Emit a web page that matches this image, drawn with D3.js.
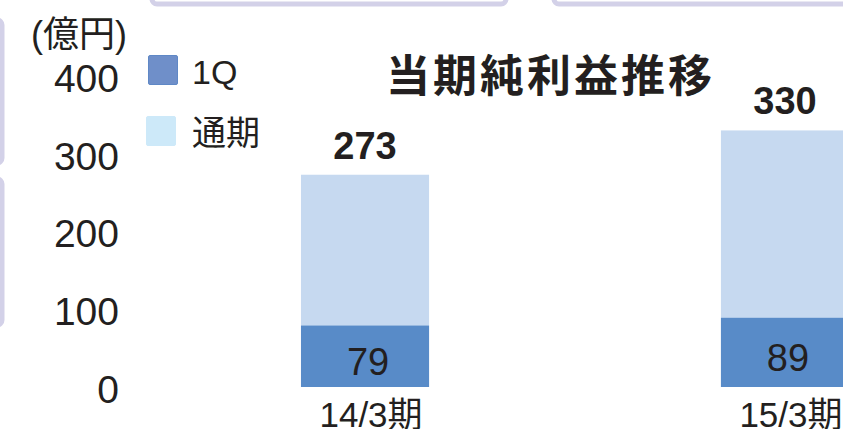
<!DOCTYPE html>
<html>
<head>
<meta charset="utf-8">
<script src="https://cdn.jsdelivr.net/npm/d3@7"></script>
<style>
  body { margin: 0; background: #fff; }
  text { font-family: "Liberation Sans", Arial, "Noto Sans CJK JP", sans-serif; fill: #231f20; }
</style>
</head>
<body>
<div id="vis_container"></div>
<script>
// data
var categories = ["14/3期", "15/3期"];
var q1_values = [79, 89];
var full_values = [273, 330];
var y_ticks = [0, 100, 200, 300, 400];
var legend_labels = ["1Q", "通期"];

var width = 843;
var height = 429;

var x = d3.scaleBand()
    .domain(categories)
    .range([91, 1059])
    .paddingInner(0.695)
    .paddingOuter(0.5);

var y = d3.scaleLinear()
    .domain([0, 400])
    .range([387, 76]);

var q1_color = "#588bc8";
var full_color = "#c6d9f0";

var svg = d3.select("#vis_container")
    .append("svg")
    .attr("width", width)
    .attr("height", height);

// lavender frames of the page around the chart (cropped)
var frames = [
    {x: 152, y: -60, w: 354, h: 64},
    {x: 554, y: -60, w: 360, h: 64},
    {x: -60, y: 20, w: 62, h: 143},
    {x: -60, y: 179, w: 62, h: 146}
];
svg.selectAll(".frame").data(frames).enter().append("rect")
    .attr("class", "frame")
    .attr("x", function(d) { return d.x; })
    .attr("y", function(d) { return d.y; })
    .attr("width", function(d) { return d.w; })
    .attr("height", function(d) { return d.h; })
    .attr("rx", 5)
    .style("fill", "none")
    .style("stroke", "#d3d1e8")
    .style("stroke-width", 5);

// full-year bars, then 1Q on top of them
svg.selectAll(".full").data(categories).enter().append("rect")
    .attr("class", "full")
    .attr("x", function(d) { return x(d); })
    .attr("y", function(d, i) { return y(full_values[i]); })
    .attr("width", x.bandwidth())
    .attr("height", function(d, i) { return y(0) - y(full_values[i]); })
    .style("fill", full_color);

svg.selectAll(".q1").data(categories).enter().append("rect")
    .attr("class", "q1")
    .attr("x", function(d) { return x(d); })
    .attr("y", function(d, i) { return y(q1_values[i]); })
    .attr("width", x.bandwidth())
    .attr("height", function(d, i) { return y(0) - y(q1_values[i]); })
    .style("fill", q1_color);

// value labels
svg.selectAll(".q1-label").data(categories).enter().append("text")
    .attr("class", "q1-label")
    .attr("x", function(d) { return x(d) + x.bandwidth() / 2 + 3; })
    .attr("y", function(d, i) { return (y(q1_values[i]) + y(0)) / 2 + 19; })
    .style("text-anchor", "middle")
    .style("font-size", "38px")
    .text(function(d, i) { return q1_values[i]; });

svg.selectAll(".full-label").data(categories).enter().append("text")
    .attr("class", "full-label")
    .attr("x", function(d) { return x(d) + x.bandwidth() / 2; })
    .attr("y", function(d, i) { return y(full_values[i]) - 16; })
    .style("text-anchor", "middle")
    .style("font-size", "38px")
    .style("font-weight", "bold")
    .text(function(d, i) { return full_values[i]; });

// category labels (cut at the bottom edge, as in the original)
svg.selectAll(".cat").data(categories).enter().append("text")
    .attr("class", "cat")
    .attr("x", function(d) { return x(d) + x.bandwidth() / 2 + 6; })
    .attr("y", 427)
    .style("text-anchor", "middle")
    .style("font-size", "35px")
    .text(function(d) { return d; });

// y axis: labels only
var yAxis = svg.append("g")
    .attr("class", "axis")
    .attr("transform", "translate(119,3)")
    .call(d3.axisLeft(y).tickValues(y_ticks).tickSize(0).tickPadding(0));
yAxis.select(".domain").remove();
yAxis.selectAll("text")
    .style("font-size", "39px")
    .style("font-family", "\"Liberation Sans\", Arial, sans-serif")
    .style("fill", "#231f20");

svg.append("text")
    .attr("x", 31)
    .attr("y", 47)
    .style("font-size", "36px")
    .text("(億円)");

// title
svg.append("text")
    .attr("x", 386)
    .attr("y", 92)
    .style("font-size", "44px")
    .style("font-weight", "bold")
    .style("letter-spacing", "3px")
    .text("当期純利益推移");

// legend
var legend_colors = [{fill: "#6f8fc9", stroke: "#5f88c6"}, {fill: "#cde9f9", stroke: "#cde9f9"}];
var legend = svg.selectAll(".legend").data(legend_labels).enter().append("g")
    .attr("class", "legend")
    .attr("transform", function(d, i) { return "translate(" + (148 - i * 2) + "," + (55 + i * 61) + ")"; });

legend.append("rect")
    .attr("x", 0.5)
    .attr("y", 0.5)
    .attr("width", 29)
    .attr("height", 29)
    .attr("rx", 1.5)
    .style("fill", function(d, i) { return legend_colors[i].fill; })
    .style("stroke", function(d, i) { return legend_colors[i].stroke; });

legend.append("text")
    .attr("x", function(d, i) { return 44 + i * 2; })
    .attr("y", 29)
    .style("font-size", "34px")
    .text(function(d) { return d; });
</script>
</body>
</html>
